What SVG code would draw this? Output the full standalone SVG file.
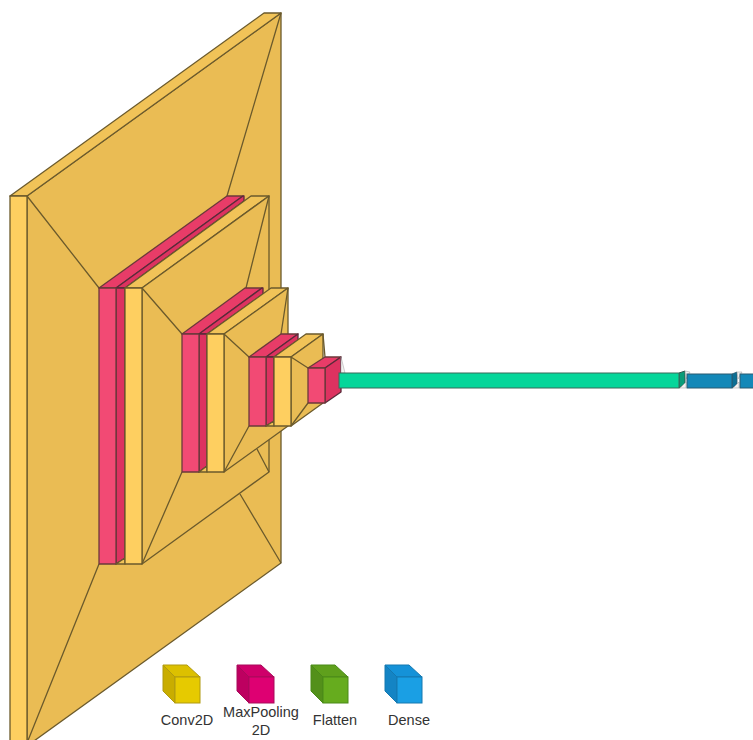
<svg xmlns="http://www.w3.org/2000/svg" width="753" height="740" viewBox="0 0 753 740">
<style>
.e{stroke:#6b5a2c;stroke-width:1.3;stroke-linejoin:round;fill:none}
.yf{fill:#fecf60;stroke:#6b5a2c;stroke-width:1.3;stroke-linejoin:round}
.ys{fill:#eabc54;stroke:#6b5a2c;stroke-width:1.3;stroke-linejoin:round}
.yt{fill:#f1c358;stroke:#6b5a2c;stroke-width:1.3;stroke-linejoin:round}
.pf{fill:#f24a74;stroke:#6b3a3a;stroke-width:1.3;stroke-linejoin:round}
.pt{fill:#e83c68;stroke:#6b3a3a;stroke-width:1.3;stroke-linejoin:round}
.ps{fill:#dd3260;stroke:#5a2a3a;stroke-width:1.3;stroke-linejoin:round}
.w{fill:#f2f2f2;stroke:#9a9a9a;stroke-width:0.5}
text{font-family:"Liberation Sans",Arial,sans-serif;font-size:14.5px;fill:#333;text-anchor:middle}
</style>
<g id="conv1">
<path class="ys" d="M27 196L281 13V563L27 746Z"/>
<path class="yt" d="M10 196L27 196L281 13L264 13Z"/>
<rect class="yf" x="10" y="196" width="17" height="550"/>
<path class="e" d="M27 196L99 288M281 13L227 196M281 563L240 494M27 743L99 564"/>
</g>
<g id="pool1">
<path class="pt" d="M99 288L116 288L243 196L227 196Z"/>
<path class="ps" d="M116 288L125 288L244 201V196H243Z"/>
<path class="ps" d="M116 288H125V558L116 564Z"/>
<rect class="pf" x="99" y="288" width="17" height="276"/>
</g>
<g id="conv2">
<path class="yt" d="M125 288L142 288L269 196L251 196Z"/>
<path class="ys" d="M142 288L269 196V472L142 564Z"/>
<path class="yt" d="M116 564L125 558V564Z"/>
<rect class="yf" x="125" y="288" width="17" height="276"/>
<path class="e" d="M142 288L182 334M269 196L246 288M269 472L257 449M142 564L182 472"/>
</g>
<g id="pool2">
<path class="pt" d="M182 334L199 334L262 288L245 288Z"/>
<path class="ps" d="M199 334L207 334L263 294V288H262Z"/>
<path class="ps" d="M199 334H207V466L199 472Z"/>
<rect class="pf" x="182" y="334" width="17" height="138"/>
</g>
<g id="conv3">
<path class="yt" d="M207 334L224 334L288 288L271 288Z"/>
<path class="ys" d="M224 334L288 288V426L224 472Z"/>
<path class="yt" d="M199 472L207 466V472Z"/>
<rect class="yf" x="207" y="334" width="17" height="138"/>
<path class="e" d="M224 334L249 357M288 288L281 334M288 426L283 419M224 472L249 426"/>
</g>
<g id="pool3">
<path class="pt" d="M249 357L266 357L298 334L281 334Z"/>
<path class="ps" d="M266 357L274 357L298 340V334Z"/>
<path class="ps" d="M266 357H274V421L266 426Z"/>
<rect class="pf" x="249" y="357" width="17" height="69"/>
</g>
<g id="conv4">
<path class="yt" d="M274 357L291 357L323 334L306 334Z"/>
<path class="ys" d="M291 357L323 334V403L291 426Z"/>
<path class="yt" d="M266 426L274 421V426Z"/>
<rect class="yf" x="274" y="357" width="17" height="69"/>
<path class="e" d="M291 357L308 368M323 334L325 357M291 426L308 403"/>
</g>
<g id="pool4">
<path class="pt" d="M308 368L325 368L341 357L325 357Z"/>
<path class="ps" d="M325 368L341 357V392L325 403Z"/>
<rect class="pf" x="308" y="368" width="17" height="35"/>
<path class="w" d="M341 357L345 373H341Z"/>
</g>
<g id="flatten">
<path d="M679 373L685 371V384L679 388Z" fill="#0a9c78" stroke="#2f5a50" stroke-width="1"/>
<rect x="339" y="373" width="340" height="15" fill="#05d69a" stroke="#3a6a5a" stroke-width="1"/>
<path class="w" d="M685 371L690 372L686 379Z"/>
<path class="w" d="M680 388H686V382Z"/>
</g>
<g id="dense1">
<path d="M732 374L737 372V385L732 388Z" fill="#0c6f94" stroke="#2a5a70" stroke-width="0.8"/>
<rect x="687" y="374" width="45" height="14" fill="#1388b8" stroke="#2a5a70" stroke-width="1"/>
<path class="w" d="M737 372L742 372L738 379Z"/>
<path class="w" d="M733 388H739V382Z"/>
</g>
<g id="dense2">
<rect x="740" y="374" width="14" height="14" fill="#1388b8" stroke="#2a5a70" stroke-width="1"/>
</g>
<g id="legend-conv2d">
<path d="M163 665L175 677V703L163 691Z" fill="#c9ad00" stroke="#b09a10"/>
<path d="M163 665H187L200 677H175Z" fill="#dcc000" stroke="#b09a10"/>
<rect x="175" y="677" width="25" height="26" fill="#e6ca00" stroke="#b09a10"/>
<text x="187" y="725">Conv2D</text>
</g>
<g id="legend-maxpool">
<path d="M237 665L249 677V703L237 691Z" fill="#bd0060" stroke="#a80a5a"/>
<path d="M237 665H261L274 677H249Z" fill="#cf006a" stroke="#a80a5a"/>
<rect x="249" y="677" width="25" height="26" fill="#de0072" stroke="#a80a5a"/>
<text x="261" y="717">MaxPooling</text>
<text x="261" y="735">2D</text>
</g>
<g id="legend-flatten">
<path d="M311 665L323 677V703L311 691Z" fill="#53901a" stroke="#4a8a18"/>
<path d="M311 665H335L348 677H323Z" fill="#5fa01c" stroke="#4a8a18"/>
<rect x="323" y="677" width="25" height="26" fill="#66ac1e" stroke="#4a8a18"/>
<text x="335" y="725">Flatten</text>
</g>
<g id="legend-dense">
<path d="M385 665L397 677V703L385 691Z" fill="#1484c4" stroke="#1478b0"/>
<path d="M385 665H409L422 677H397Z" fill="#1592d8" stroke="#1478b0"/>
<rect x="397" y="677" width="25" height="26" fill="#1a9fe4" stroke="#1478b0"/>
<text x="409" y="725">Dense</text>
</g>
</svg>
